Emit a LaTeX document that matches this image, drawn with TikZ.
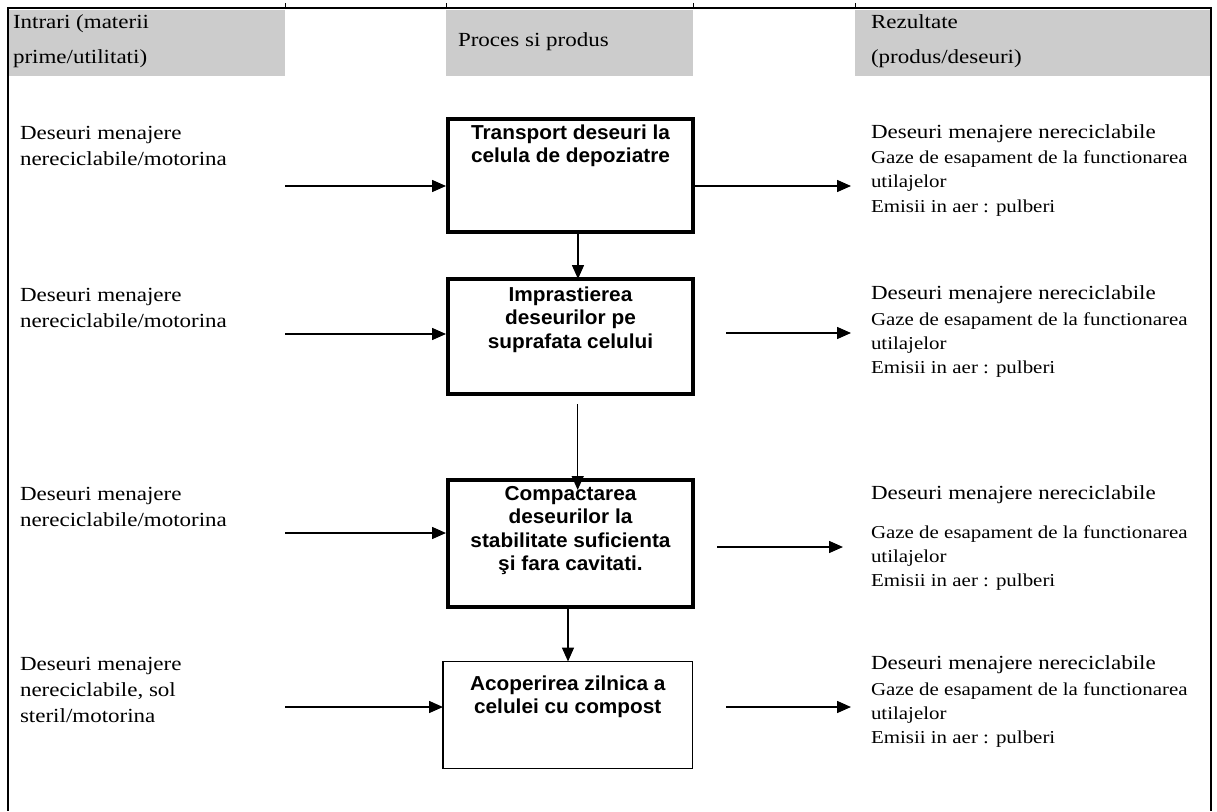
\documentclass[tikz,border=0pt]{standalone}
\usepackage{fontspec}
\setmainfont{Liberation Serif}[FakeStretch=1.15]
\newfontfamily\boxfont{Liberation Sans}[FakeStretch=1.03]
\usetikzlibrary{arrows.meta}
\definecolor{hdrgrey}{RGB}{204,204,204}
\newcommand\tp{\rule{0pt}{15pt}}
\begin{document}
\begin{tikzpicture}[x=1pt,y=-1pt,
  frameline/.style={line width=2.4pt},
  tickline/.style={line width=1pt},
  txt/.style={inner sep=0pt, outer sep=0pt, align=left, anchor=north west, font=\fontsize{20}{26}\selectfont},
  hdrtxt/.style={txt, font=\fontsize{20}{35}\selectfont},
  smalltxt/.style={txt, font=\fontsize{18.2}{24}\selectfont},
  boxtxt/.style={inner sep=0pt, outer sep=0pt, align=center, anchor=north, font=\boxfont\bfseries\fontsize{20.2}{23.5}\selectfont},
  thickbox/.style={draw, line width=4pt, inner sep=0pt, outer sep=0pt},
  thinbox/.style={draw, line width=1.2pt, inner sep=0pt, outer sep=0pt},
  arr/.style={-{Triangle[length=14pt,width=12pt]}, line width=1.5pt}]
\useasboundingbox (0,0) rectangle (1217,811);

% header
\fill[hdrgrey] (8,10) rectangle (285,76);
\fill[hdrgrey] (446,10) rectangle (693,76);
\fill[hdrgrey] (855,10) rectangle (1210,76);
\draw[frameline] (7,8) -- (1211,8);
\draw[frameline] (8,7) -- (8,811);
\draw[frameline] (1211,7) -- (1211,811);
\foreach \tx in {285,446,693,855} \draw[tickline] (\tx,3) -- (\tx,8);

\node[hdrtxt] (h1) at (13,13) {\tp Intrari (materii\\prime/utilitati)};
\node[txt] (h2) at (458,31) {\tp Proces si produs};
\node[hdrtxt] (h3) at (871,13) {\tp Rezultate\\(produs/deseuri)};

% boxes
\node[thickbox, minimum width=245pt, minimum height=113pt] (b1) at (570.5,175.5) {};
\node[thickbox, minimum width=245pt, minimum height=115pt] (b2) at (570.5,336.5) {};
\node[thickbox, minimum width=245pt, minimum height=127pt] (b3) at (570.5,543.5) {};
\node[thinbox, minimum width=249.5pt, minimum height=107pt] (b4) at (567.75,715) {};

\node[boxtxt] (t1) at (570.5,123) {\rule{0pt}{16pt}Transport deseuri la\\celula de depoziatre};
\node[boxtxt] (t2) at (570.5,285) {\rule{0pt}{16pt}Imprastierea\\deseurilor pe\\suprafata celului};
\node[boxtxt] (t3) at (570.5,484) {\rule{0pt}{16pt}Compactarea\\deseurilor la\\stabilitate suficienta\\şi fara cavitati.};
\node[boxtxt] (t4) at (567.75,674) {\rule{0pt}{16pt}Acoperirea zilnica a\\celulei cu compost};

% left texts
\node[txt] (L1) at (20,124) {\tp Deseuri menajere\\nereciclabile/motorina};
\node[txt] (L2) at (20,286) {\tp Deseuri menajere\\nereciclabile/motorina};
\node[txt] (L3) at (20,485) {\tp Deseuri menajere\\nereciclabile/motorina};
\node[txt] (L4) at (20,655) {\tp Deseuri menajere\\nereciclabile, sol\\steril/motorina};

% right texts
\node[txt] (R1a) at (871,123) {\tp Deseuri menajere nereciclabile};
\node[smalltxt, font=\fontsize{18.2}{24.5}\selectfont] (R1b) at (871,148) {\tp Gaze de esapament de la functionarea\\utilajelor\\Emisii in aer : pulberi};
\node[txt] (R2a) at (871,284) {\tp Deseuri menajere nereciclabile};
\node[smalltxt] (R2b) at (871,310) {\tp Gaze de esapament de la functionarea\\utilajelor\\Emisii in aer : pulberi};
\node[txt] (R3a) at (871,484) {\tp Deseuri menajere nereciclabile};
\node[smalltxt] (R3b) at (871,523) {\tp Gaze de esapament de la functionarea\\utilajelor\\Emisii in aer : pulberi};
\node[txt] (R4a) at (871,654) {\tp Deseuri menajere nereciclabile};
\node[smalltxt] (R4b) at (871,680) {\tp Gaze de esapament de la functionarea\\utilajelor\\Emisii in aer : pulberi};

% connector end points
\coordinate (l1) at (285,186);
\coordinate (l2) at (285,334);
\coordinate (l3) at (285,533);
\coordinate (l4) at (285,707);
\coordinate (r1e) at (851,186);
\coordinate (r2s) at (726,333);
\coordinate (r2e) at (851,333);
\coordinate (r3s) at (717,547);
\coordinate (r3e) at (843,547);
\coordinate (r4s) at (726,707);
\coordinate (r4e) at (851,707);
\coordinate (v2s) at (577.7,404);
\coordinate (v2e) at (577.7,490);

% horizontal arrows
\draw[arr, shorten >=2pt] (l1) -- (l1 -| b1.west);
\draw[arr, shorten >=2pt] (l2) -- (l2 -| b2.west);
\draw[arr, shorten >=2pt] (l3) -- (l3 -| b3.west);
\draw[arr] (l4) -- (l4 -| b4.west);
\draw[arr, shorten <=-2pt] (b1.east |- r1e) -- (r1e);
\draw[arr] (r2s) -- (r2e);
\draw[arr] (r3s) -- (r3e);
\draw[arr] (r4s) -- (r4e);

% vertical arrows
\draw[arr] ([xshift=7.5pt]b1.south) -- ([xshift=7.5pt]b2.north);
\draw[arr] (v2s) -- (v2e);
\draw[arr] ([xshift=-2.5pt]b3.south) -- ([xshift=0.25pt]b4.north);
\end{tikzpicture}
\end{document}
